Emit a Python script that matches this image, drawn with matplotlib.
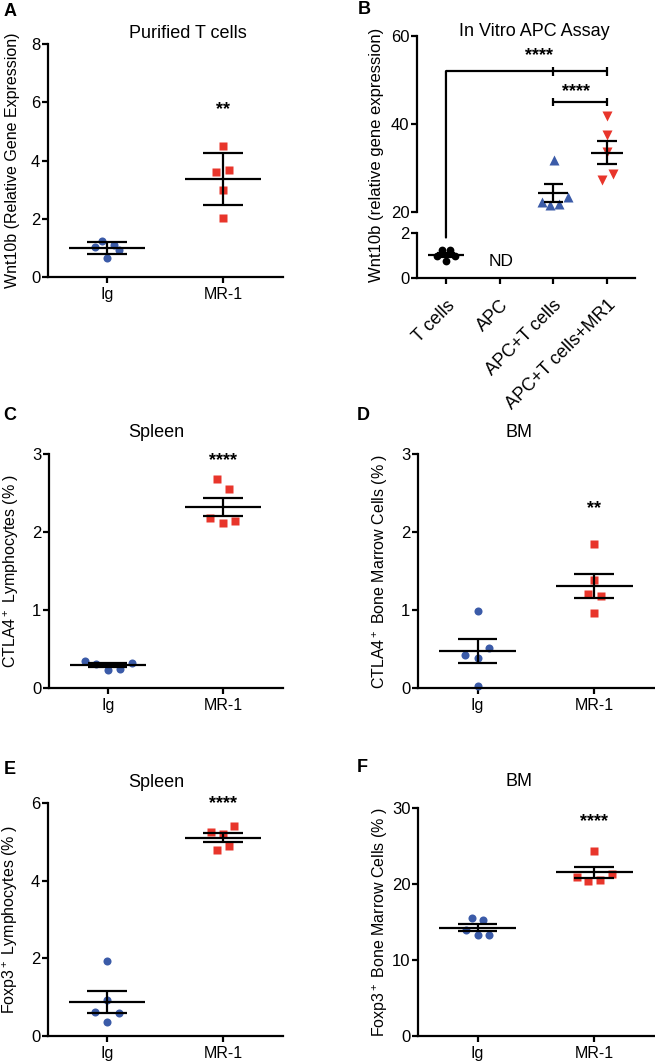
import matplotlib
matplotlib.use("Agg")
import matplotlib.pyplot as plt
from matplotlib.patches import ConnectionPatch

plt.rcParams['font.family'] = ['Liberation Sans', 'DejaVu Sans']
plt.rcParams['mathtext.fontset'] = 'custom'
plt.rcParams['mathtext.rm'] = 'Liberation Sans'
plt.rcParams['mathtext.it'] = 'Liberation Sans:italic'

azul = '#3b5ba8'
rojo = '#e8352b'
LW = 1.6

grupos = ["Ig", "MR-1"]

# A - Purified T cells
a_ig = [1.24, 1.03, 1.09, 0.94, 0.66]
a_mr = [4.49, 3.59, 3.69, 2.98, 2.04]
a_media = [1.0, 3.36]
a_error = [0.2, 0.9]

# B - In Vitro APC Assay
b_grupos = ["T cells", "APC", "APC+T cells", "APC+T cells+MR1"]
b_tcells = [1.23, 1.23, 0.99, 0.99, 0.74]
b_apc_t = [31.9, 22.3, 21.6, 21.7, 23.4]
b_apc_t_mr1 = [41.9, 37.5, 33.7, 27.2, 28.7]
b_media = [1.02, None, 24.3, 33.5]
b_error = [0.1, None, 2.0, 2.65]

# C - Spleen CTLA4
c_ig = [0.35, 0.31, 0.23, 0.24, 0.32]
c_mr = [2.68, 2.55, 2.18, 2.12, 2.14]
c_media = [0.29, 2.32]
c_error = [0.025, 0.12]

# D - BM CTLA4
d_ig = [0.99, 0.42, 0.51, 0.38, 0.02]
d_mr = [1.85, 1.38, 1.21, 1.18, 0.96]
d_media = [0.47, 1.31]
d_error = [0.155, 0.15]

# E - Spleen Foxp3
e_ig = [1.92, 0.92, 0.62, 0.58, 0.36]
e_mr = [5.42, 5.25, 5.21, 4.78, 4.89]
e_media = [0.87, 5.11]
e_error = [0.28, 0.12]

# F - BM Foxp3
f_ig = [15.58, 15.23, 13.92, 13.26, 13.26]
f_mr = [24.33, 20.92, 20.39, 20.57, 21.27]
f_media = [14.27, 21.53]
f_error = [0.42, 0.7]

# desplazamiento horizontal de los puntos (jitter)
a_dx = ([-0.04, -0.1, 0.06, 0.1, 0.0], [0.0, -0.06, 0.05, 0.0, 0.0])
c_dx = ([-0.2, -0.1, 0.0, 0.11, 0.21], [-0.05, 0.05, -0.11, 0.0, 0.1])
d_dx = ([0.0, -0.11, 0.1, 0.0, 0.0], [0.0, 0.0, -0.05, 0.055, 0.0])
e_dx = ([0.0, 0.0, -0.105, 0.1, 0.0], [0.1, -0.105, 0.0, -0.05, 0.05])
f_dx = ([-0.05, 0.05, -0.1, 0.0, 0.1], [0.0, -0.15, -0.05, 0.05, 0.15])
b_dx = ([-0.08, 0.075, -0.17, 0.17, 0.0],
        [0.02, -0.22, -0.06, 0.1, 0.27],
        [0.0, 0.0, 0.0, -0.1, 0.11])


def estilo(ax, fs=12):
    for s in ['top', 'right']:
        ax.spines[s].set_visible(False)
    for s in ['left', 'bottom']:
        ax.spines[s].set_linewidth(LW)
    ax.tick_params(direction='out', length=4.5, width=LW, labelsize=fs)
    ax.tick_params(axis='y', pad=1)
    ax.tick_params(axis='x', pad=3, labelsize=11.5)


def media_sem(ax, x, m, e, ancho=0.33, cap=0.17):
    ax.hlines(m, x - ancho, x + ancho, color='k', lw=LW, zorder=3)
    ax.hlines([m - e, m + e], x - cap, x + cap, color='k', lw=LW, zorder=3)
    ax.vlines(x, m - e, m + e, color='k', lw=LW, zorder=3)


def panel(rect, ig, mr, dx, media, error, ymax, yticks, ylabel, titulo, tx, ty,
          estrellas, ey):
    ax = fig.add_axes(rect)
    ax.plot([0 + d for d in dx[0]], ig, 'o', color=azul, ms=5.8, mec='none',
            clip_on=False, zorder=2)
    ax.plot([1 + d for d in dx[1]], mr, 's', color=rojo, ms=5.4, mec='none',
            clip_on=False, zorder=2)
    for i in range(2):
        media_sem(ax, i, media[i], error[i])
    ax.set_xlim(-0.51, 1.52)
    ax.set_ylim(0, ymax)
    ax.set_yticks(yticks)
    ax.set_xticks([0, 1])
    ax.set_xticklabels(grupos)
    estilo(ax)
    ax.set_ylabel(ylabel, fontsize=11.5)
    ax.yaxis.set_label_coords(-0.12, 0.5)
    ax.text(tx, ty, titulo, transform=ax.transAxes, ha='center', va='center',
            fontsize=13)
    ax.text(1, ey, estrellas, ha='center', va='center', fontsize=13,
            fontweight='bold')
    return ax


fig = plt.figure(figsize=(6.55, 10.63), dpi=100)

panel([0.0733, 0.7394, 0.3588, 0.2192], a_ig, a_mr, a_dx, a_media, a_error,
      8, [0, 2, 4, 6, 8], "Wnt10b (Relative Gene Expression)",
      "Purified T cells", 0.596, 1.047, "**", 5.75)
panel([0.0748, 0.3528, 0.3573, 0.2201], c_ig, c_mr, c_dx, c_media, c_error,
      3, [0, 1, 2, 3], "CTLA4$^+$ Lymphocytes (% )",
      "Spleen", 0.46, 1.09, "****", 2.92)
panel([0.6382, 0.3528, 0.3618, 0.2201], d_ig, d_mr, d_dx, d_media, d_error,
      3, [0, 1, 2, 3], "CTLA4$^+$ Bone Marrow Cells (% )",
      "BM", 0.426, 1.09, "**", 2.3)
panel([0.0733, 0.0254, 0.3588, 0.2192], e_ig, e_mr, e_dx, e_media, e_error,
      6, [0, 2, 4, 6], "Foxp3$^+$ Lymphocytes (% )",
      "Spleen", 0.46, 1.09, "****", 5.98)
panel([0.6382, 0.0254, 0.3618, 0.2145], f_ig, f_mr, f_dx, f_media, f_error,
      30, [0, 10, 20, 30], "Foxp3$^+$ Bone Marrow Cells (% )",
      "BM", 0.426, 1.114, "****", 28.2)

# B - eje partido
ax_sup = fig.add_axes([0.6366, 0.8006, 0.3328, 0.1656])
ax_inf = fig.add_axes([0.6366, 0.7385, 0.3328, 0.0423])
for ax in (ax_sup, ax_inf):
    ax.set_xlim(-0.54, 3.52)
    estilo(ax)

ax_inf.plot([0 + d for d in b_dx[0]], b_tcells, 'o', color='k', ms=5.6,
            mec='none', clip_on=False, zorder=2)
ax_sup.plot([2 + d for d in b_dx[1]], b_apc_t, '^', color=azul, ms=6.5,
            mec='none', zorder=2)
ax_sup.plot([3 + d for d in b_dx[2]], b_apc_t_mr1, 'v', color=rojo, ms=6.5,
            mec='none', zorder=2)
media_sem(ax_inf, 0, b_media[0], b_error[0])
media_sem(ax_sup, 2, b_media[2], b_error[2], ancho=0.28, cap=0.18)
media_sem(ax_sup, 3, b_media[3], b_error[3], ancho=0.3, cap=0.18)
ax_inf.text(1.02, 0.72, "ND", ha='center', va='center', fontsize=12.5)

ax_sup.set_ylim(20, 60)
ax_sup.set_yticks([20, 40, 60])
ax_sup.spines['bottom'].set_visible(False)
ax_sup.set_xticks([])
ax_inf.set_ylim(0, 2)
ax_inf.set_yticks([0, 2])
ax_inf.set_xticks(range(4))
ax_inf.set_xticklabels(b_grupos, rotation=45, ha='right',
                       rotation_mode='anchor')
ax_inf.tick_params(axis='x', labelsize=13, pad=9)

# corchetes de significancia
ax_sup.plot([0, 3], [52, 52], color='k', lw=LW, solid_capstyle='butt')
ax_sup.vlines([2, 3], 51, 53, color='k', lw=LW)
ax_sup.plot([2, 3], [45, 45], color='k', lw=LW, solid_capstyle='butt')
ax_sup.vlines([2, 3], 44, 46, color='k', lw=LW)
con = ConnectionPatch(xyA=(0, 52), coordsA='data', axesA=ax_sup,
                      xyB=(0, 1.8), coordsB='data', axesB=ax_inf,
                      color='k', lw=LW)
fig.add_artist(con)
ax_sup.text(1.74, 55.5, "****", ha='center', va='center', fontsize=13,
            fontweight='bold')
ax_sup.text(2.43, 47.4, "****", ha='center', va='center', fontsize=13,
            fontweight='bold')
ax_sup.text(0.537, 1.023, "In Vitro APC Assay", transform=ax_sup.transAxes,
            ha='center', va='center', fontsize=13)
fig.text(377 / 655, 1 - 155 / 1063, "Wnt10b (relative gene expression)",
         rotation=90, ha='center', va='center', fontsize=12)

# letras de los paneles
for letra, (px, py) in zip("ABCDEF", [(10, 12), (364, 10), (10, 415),
                                      (363, 415), (10, 769), (362, 768)]):
    fig.text(px / 655, 1 - py / 1063, letra, ha='center', va='center',
             fontsize=13, fontweight='bold')

fig.savefig("out.png", dpi=100)
